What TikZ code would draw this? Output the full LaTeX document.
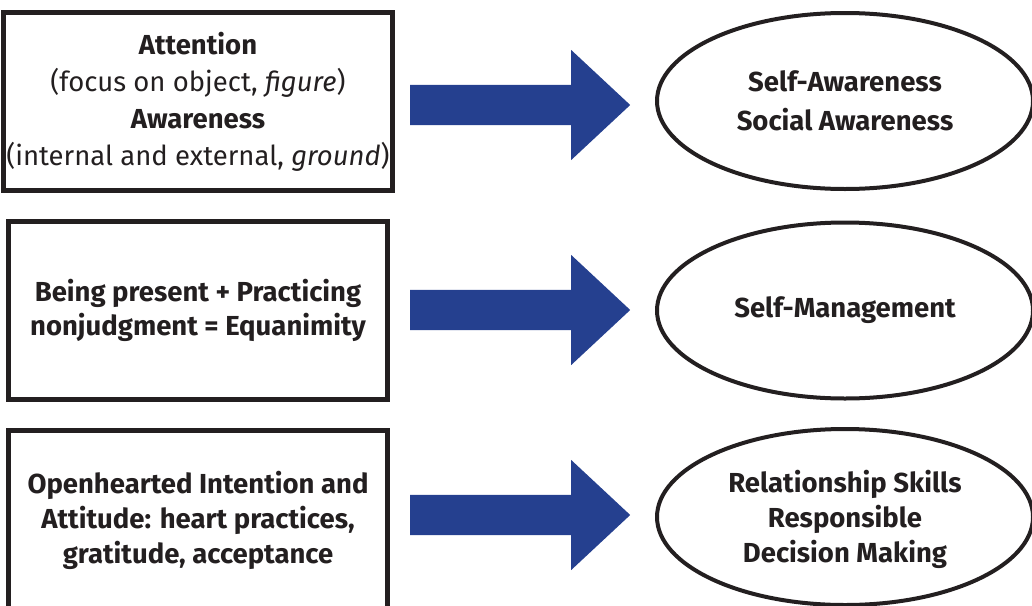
\documentclass[tikz,border=0pt]{standalone}
\usepackage{fontspec}
\setmainfont{Fira Sans}
\usetikzlibrary{shapes.geometric,shapes.arrows}
\definecolor{inkblack}{RGB}{35,31,32}
\definecolor{arrowblue}{RGB}{37,64,143}
\tikzset{
    inbox/.style={draw=inkblack, line width=5pt, minimum width=379pt, minimum height=178pt,
        align=center, text=inkblack, font=\fontsize{27.5}{35}\selectfont},
    outcome/.style={ellipse, draw=inkblack, line width=4pt, minimum width=376pt, minimum height=176pt,
        align=center, text=inkblack, font=\bfseries\fontsize{27.5}{39}\selectfont},
    bigarrow/.style={single arrow, fill=arrowblue, anchor=tail, minimum height=220pt,
        inner xsep=0pt, inner ysep=20pt, single arrow head extend=35pt, single arrow tip angle=86}
}
\begin{document}
\begin{tikzpicture}[x=1pt,y=-1pt]
\useasboundingbox (0,0) rectangle (1032,605);

\node[inbox, font=\fontsize{27.5}{37}\selectfont] (b1) at (198,101.5)
    {\textbf{Attention}\\(focus on object, \textit{figure})\\\textbf{Awareness}\\(internal and external, \textit{ground})};
\node[inbox, font=\bfseries\fontsize{27.5}{34}\selectfont] (b2) at (198,310.5)
    {Being present + Practicing\\nonjudgment = Equanimity};
\node[inbox, font=\bfseries\fontsize{27.5}{35}\selectfont] (b3) at (198,519.5)
    {\rule{0pt}{24pt}Openhearted Intention and\\Attitude: heart practices,\\gratitude, acceptance};

\node[outcome] (e1) at (845,101) {Self-Awareness\\Social Awareness};
\node[outcome] (e2) at (845,310.5) {Self-Management};
\node[outcome, font=\bfseries\fontsize{27.5}{35}\selectfont] (e3) at (845,517)
    {\rule{0pt}{27pt}Relationship Skills\\Responsible\\Decision Making};

\foreach \y/\n in {105/1,310/2,515/3}
{
    \node[bigarrow] (a\n) at (410,\y) {};
}

\end{tikzpicture}
\end{document}
